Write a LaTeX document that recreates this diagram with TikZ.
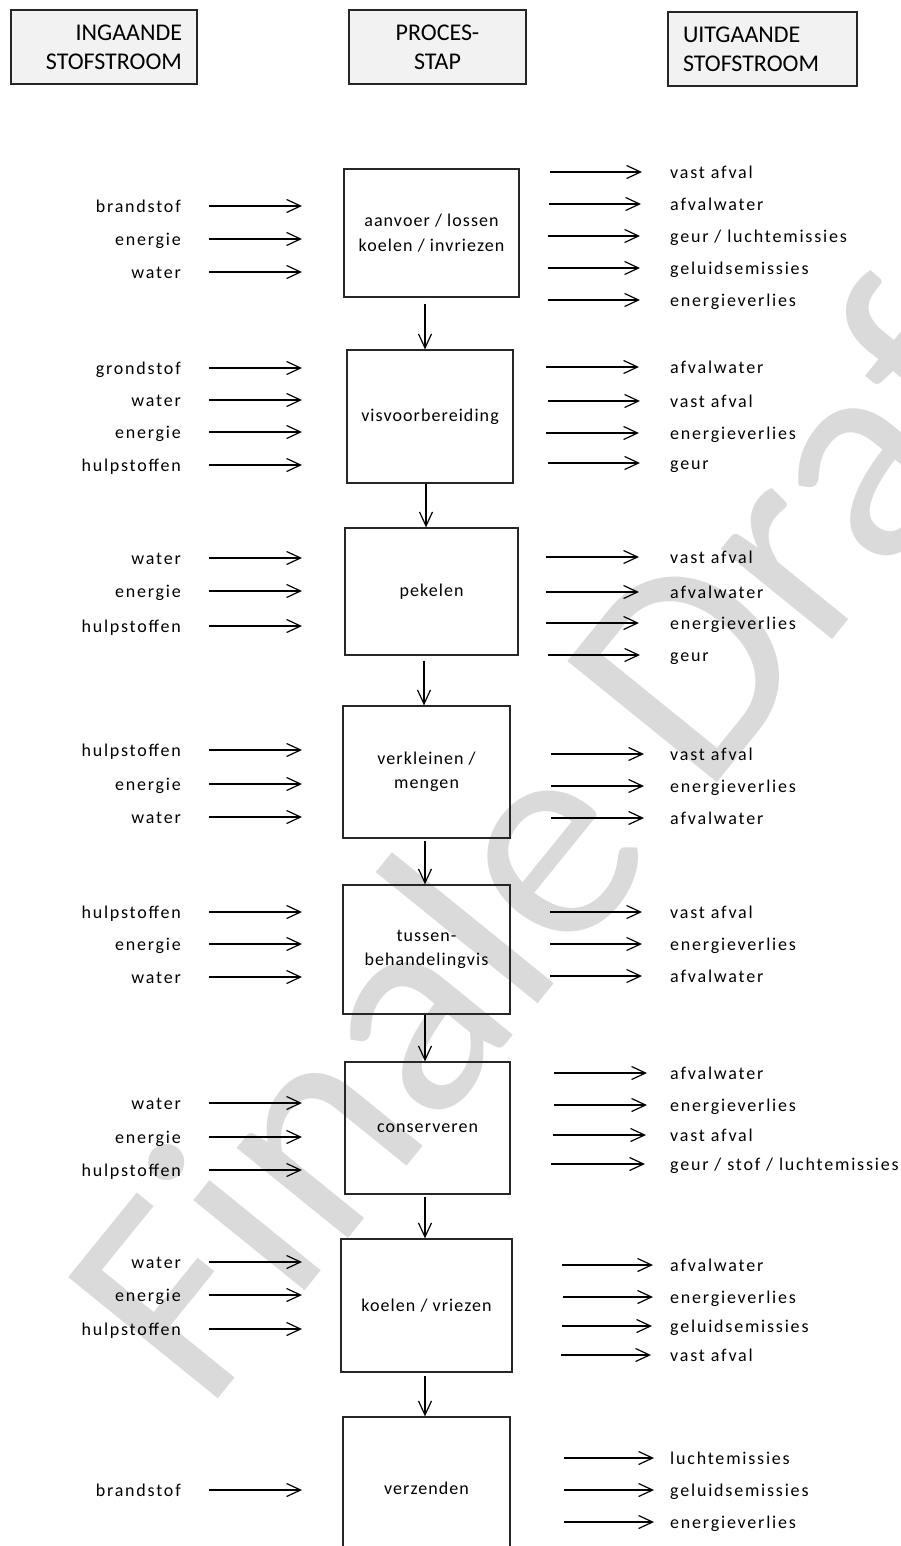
\documentclass[tikz,border=0pt]{standalone}
\usepackage{fontspec}
\setmainfont{Carlito}
\newfontfamily\lblfont[LetterSpace=10]{Carlito}
\newfontfamily\procfont[LetterSpace=6]{Carlito}
\usetikzlibrary{arrows.meta}
\definecolor{wmgray}{RGB}{218,218,218}
\definecolor{hdrfill}{RGB}{242,242,242}
\newcommand\myin[3]{%
  \node[lbl, anchor=east] (#1) at (181,#2) {#3};
  \coordinate (#1s) at (209,#2);
  \coordinate (#1e) at (302,#2);
  \draw[arr] (#1s) -- (#1e);}
\newcommand\myout[5]{%
  \coordinate (#1s) at (#3,#2);
  \coordinate (#1e) at (#4,#2);
  \draw[arr] (#1s) -- (#1e);
  \node[lbl, anchor=west] (#1) at (670,#2) {#5};}
\begin{document}
\begin{tikzpicture}[x=1pt,y=-1pt,
  hdr/.style={draw=black!85, line width=1.4pt, fill=hdrfill, inner sep=0pt,
    minimum height=74pt, font=\fontsize{24}{29}\selectfont},
  proc/.style={draw=black!85, line width=1.3pt, inner sep=0pt, align=center,
    font=\procfont\fontsize{18}{24.5}\selectfont},
  lbl/.style={font=\lblfont\fontsize{18}{22}\selectfont, inner sep=0pt,
    text height=13pt, text depth=0pt},
  arr/.style={line width=1.2pt, -{Straight Barb[length=14pt,width=13pt]}},
  wm/.style={text=wmgray, font=\fontsize{300}{300}\selectfont, inner sep=0pt}
]
\useasboundingbox (0,0) rectangle (901,1546);
% watermark
\node[wm, rotate=51, anchor=base west] (wm) at (205,1415) {Finale Draft};

% headers
\node[hdr, minimum width=186pt, text width=156pt, align=right] (h1) at (104,47) {INGAANDE\\STOFSTROOM};
\node[hdr, minimum width=177pt, text width=150pt, align=center] (h2) at (437.5,47) {PROCES-\\STAP};
\node[hdr, minimum width=189pt, text width=159pt, align=left] (h3) at (762.5,49) {UITGAANDE\\STOFSTROOM};

% process boxes
\node[proc, minimum width=175pt, minimum height=128pt] (A) at (431.5,233) {aanvoer / lossen\\koelen / invriezen};
\node[proc, minimum width=166pt, minimum height=133pt] (B) at (430,416.5) {visvoorbereiding};
\node[proc, minimum width=173pt, minimum height=127pt] (C) at (431.5,591.5) {pekelen};
\node[proc, minimum width=167pt, minimum height=132pt] (D) at (426.5,772) {verkleinen /\\mengen};
\node[proc, minimum width=167pt, minimum height=129pt] (E) at (426.5,949.5) {tussen-\\behandelingvis};
\node[proc, minimum width=165pt, minimum height=132pt] (F) at (427.5,1128) {conserveren};
\node[proc, minimum width=171pt, minimum height=133pt] (G) at (426.5,1305.5) {koelen / vriezen};
\node[proc, minimum width=167pt, minimum height=143pt] (H) at (426.5,1488.5) {verzenden};

% vertical flow
\coordinate (v1) at (425,0);
\coordinate (v2) at (426,0);
\coordinate (v3) at (424,0);
\draw[arr, shorten <=6pt] (v1 |- A.south) -- (v1 |- B.north);
\draw[arr] (v2 |- B.south) -- (v2 |- C.north);
\draw[arr, shorten <=5pt] (v3 |- C.south) -- (v3 |- D.north);
\draw[arr, shorten <=2pt] (v1 |- D.south) -- (v1 |- E.north);
\draw[arr] (v1 |- E.south) -- (v1 |- F.north);
\draw[arr, shorten <=2pt] (v1 |- F.south) -- (v1 |- G.north);
\draw[arr, shorten <=3pt] (v1 |- G.south) -- (v1 |- H.north);

% A
\myin{ia1}{206}{brandstof}
\myin{ia2}{239}{energie}
\myin{ia3}{272}{water}
\myout{oa1}{172}{550}{642}{vast afval}
\myout{oa2}{204}{549}{641}{afvalwater}
\myout{oa3}{236}{548}{640}{geur / luchtemissies}
\myout{oa4}{268}{548}{640}{geluidsemissies}
\myout{oa5}{300}{548}{640}{energieverlies}
% B
\myin{ib1}{368}{grondstof}
\myin{ib2}{400}{water}
\myin{ib3}{432}{energie}
\myin{ib4}{465}{hulpstoffen}
\myout{ob1}{367}{546}{639}{afvalwater}
\myout{ob2}{401}{548}{640}{vast afval}
\myout{ob3}{433}{546}{639}{energieverlies}
\myout{ob4}{463}{548}{640}{geur}
% C
\myin{ic1}{558}{water}
\myin{ic2}{591}{energie}
\myin{ic3}{626}{hulpstoffen}
\myout{oc1}{557}{546}{639}{vast afval}
\myout{oc2}{592}{546}{639}{afvalwater}
\myout{oc3}{623}{546}{639}{energieverlies}
\myout{oc4}{655}{548}{640}{geur}
% D
\myin{id1}{750}{hulpstoffen}
\myin{id2}{784}{energie}
\myin{id3}{817}{water}
\myout{od1}{754}{551}{644}{vast afval}
\myout{od2}{786}{551}{644}{energieverlies}
\myout{od3}{818}{551}{644}{afvalwater}
% E
\myin{ie1}{912}{hulpstoffen}
\myin{ie2}{944}{energie}
\myin{ie3}{977}{water}
\myout{oe1}{912}{550}{642}{vast afval}
\myout{oe2}{944}{550}{642}{energieverlies}
\myout{oe3}{976}{550}{642}{afvalwater}
% F
\myin{if1}{1103}{water}
\myin{if2}{1137}{energie}
\myin{if3}{1170}{hulpstoffen}
\myout{of1}{1073}{554}{647}{afvalwater}
\myout{of2}{1105}{554}{647}{energieverlies}
\myout{of3}{1135}{553}{646}{vast afval}
\myout{of4}{1164}{551}{645}{geur / stof / luchtemissies}
% G
\myin{ig1}{1262}{water}
\myin{ig2}{1295}{energie}
\myin{ig3}{1329}{hulpstoffen}
\myout{og1}{1265}{562}{653}{afvalwater}
\myout{og2}{1297}{563}{653}{energieverlies}
\myout{og3}{1326}{562}{652}{geluidsemissies}
\myout{og4}{1355}{561}{651}{vast afval}
% H
\myin{ih1}{1490}{brandstof}
\myout{oh1}{1458}{564}{654}{luchtemissies}
\myout{oh2}{1490}{564}{654}{geluidsemissies}
\myout{oh3}{1522}{564}{654}{energieverlies}
\end{tikzpicture}
\end{document}
